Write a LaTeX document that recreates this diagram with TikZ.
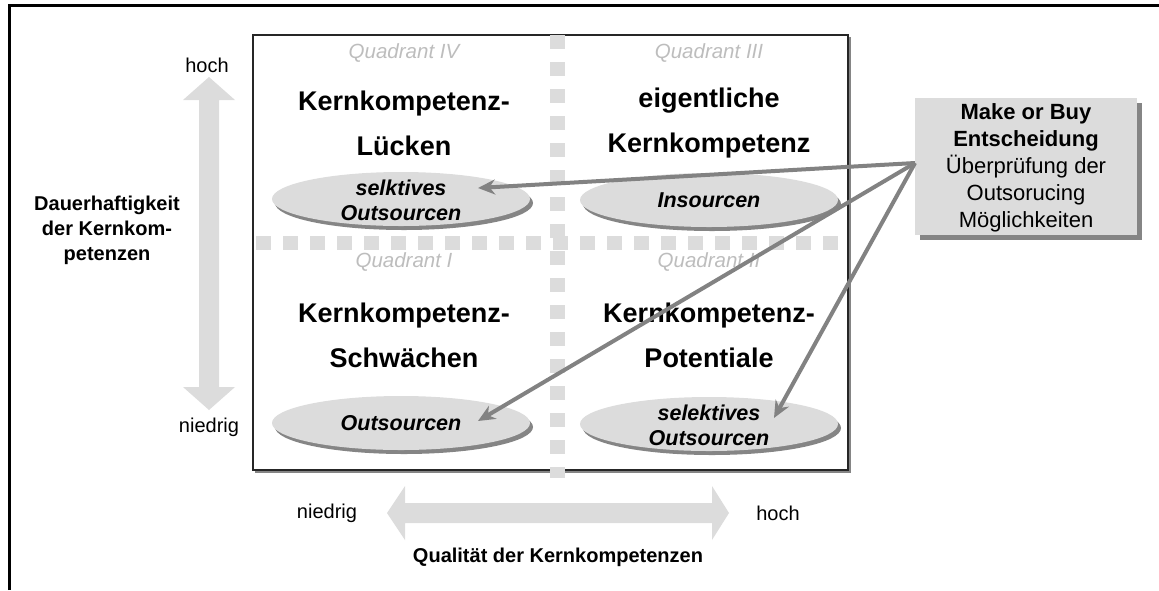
\documentclass[tikz,border=0pt]{standalone}
\usepackage{fontspec}
\setmainfont{Liberation Sans}
\usetikzlibrary{shapes.geometric,arrows.meta,shadows}
\definecolor{lg}{HTML}{DCDCDC}
\definecolor{sh}{HTML}{858585}
\definecolor{qlab}{HTML}{BDBDBD}
\definecolor{arr}{HTML}{828282}
\begin{document}
\begin{tikzpicture}[x=1pt,y=-1pt,
  title/.style={font=\bfseries\fontsize{27}{45}\selectfont, align=center, inner sep=0pt},
  qlabel/.style={font=\itshape\fontsize{20.5}{22}\selectfont, text=qlab, inner sep=0pt},
  ellbox/.style={ellipse, fill=lg, minimum width=258pt, minimum height=54pt, inner sep=0pt,
     drop shadow={shadow xshift=3pt, shadow yshift=-4pt, fill=sh, opacity=1}},
  elltext/.style={font=\bfseries\itshape\fontsize{21.5}{25}\selectfont, align=center, inner sep=0pt},
  axlabel/.style={font=\fontsize{20}{24}\selectfont, inner sep=0pt},
  axtitle/.style={font=\bfseries\fontsize{20}{25}\selectfont, align=center, inner sep=0pt},
  mkbox/.style={rectangle, fill=lg, minimum width=222pt, minimum height=137pt, inner sep=0pt,
     drop shadow={shadow xshift=5pt, shadow yshift=-5pt, fill=sh, opacity=1}},
  mktext/.style={font=\fontsize{22}{27}\selectfont, align=center, inner sep=0pt},
  conn/.style={draw=arr, line width=4pt, -{Stealth[length=17pt,width=15pt]}},
  bigarrow/.style={fill=lg, draw=none},
  divider/.style={draw=lg, line width=14pt}
]
\useasboundingbox (0,0) rectangle (1159,590);
% outer frame
\draw[line width=3pt] (9,590) -- (9,5) -- (1159,5);

% main box with shadow
\draw[line width=2pt, sh] (255,472) -- (850,472) -- (850,37);
\draw[line width=2pt, black!85] (253,35) rectangle (848,470);

% dividers
\draw[divider, dash pattern=on 15pt off 12pt] (256,243) -- (848,243);
\draw[divider, line width=15pt, dash pattern=on 14pt off 13pt] (557,35) -- (557,478);

% quadrant labels
\node[qlabel] (q4) at (404,53) {Quadrant IV};
\node[qlabel] (q3) at (709,53) {Quadrant III};
\node[qlabel] (q1) at (404,262) {Quadrant I};
\node[qlabel] (q2) at (709,262) {Quadrant II};

% quadrant titles
\node[title] (t4) at (404,123) {Kernkompetenz-\\Lücken};
\node[title] (t3) at (709,123) {eigentliche\\Kernkompetenz};
\node[title] (t1) at (404,335) {Kernkompetenz-\\Schwächen};
\node[title] (t2) at (709,335) {Kernkompetenz-\\Potentiale};

% ellipses
\node[ellbox] (e4) at (401,199) {};
\node[elltext] (e4t) at (401,200) {selktives\\Outsourcen};
\node[ellbox] (e3) at (709,200) {};
\node[elltext] (e3t) at (709,200) {Insourcen};
\node[ellbox] (e1) at (401,423) {};
\node[elltext] (e1t) at (401,423) {Outsourcen};
\node[ellbox] (e2) at (709,424) {};
\node[elltext] (e2t) at (709,425) {selektives\\Outsourcen};

% vertical axis
\path[bigarrow] (209,77) -- (235,100) -- (219,100) -- (219,387) -- (235,387) -- (209,410)
  -- (183,387) -- (199,387) -- (199,100) -- (183,100) -- cycle;
\node[axlabel] (vhoch) at (207,65) {hoch};
\node[axlabel] (vnied) at (209,427) {niedrig};
\node[axtitle] (vtitle) at (107,230) {Dauerhaftigkeit\\der Kernkom-\\petenzen};

% horizontal axis
\path[bigarrow] (387,513) -- (405,486) -- (405,503) -- (712,503) -- (712,486) -- (729,513)
  -- (712,540) -- (712,523) -- (405,523) -- (405,540) -- cycle;
\node[axlabel] (hnied) at (327,513) {niedrig};
\node[axlabel] (hhoch) at (778,513) {hoch};
\node[axtitle] (htitle) at (558,557) {Qualität der Kernkompetenzen};

% make or buy box
\node[mkbox] (mk) at (1026,166.5) {};
\node[mktext] (mkt) at (1026,167.5) {\textbf{Make or Buy}\\\textbf{Entscheidung}\\Überprüfung der\\Outsorucing\\Möglichkeiten};

% connectors
\coordinate (src) at (915,163);
\coordinate (a4) at (478,188);
\coordinate (a1) at (478,421);
\coordinate (a2) at (774,418);
\draw[conn] (src) -- (a4);
\draw[conn] (src) -- (a1);
\draw[conn] (src) -- (a2);
\end{tikzpicture}
\end{document}
